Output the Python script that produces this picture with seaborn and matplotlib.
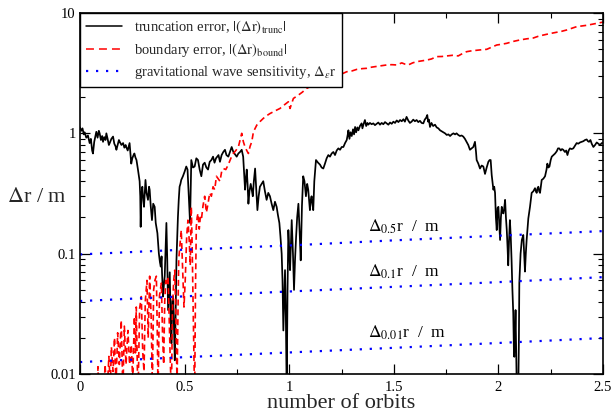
import numpy as np
import pandas as pd
import matplotlib
matplotlib.use("Agg")
import matplotlib.pyplot as plt
import matplotlib.ticker as mticker
from matplotlib.lines import Line2D
import seaborn as sns

# ---------------- data ----------------
trunc_x = [0.000, 0.006, 0.012, 0.018, 0.022, 0.030, 0.038, 0.046, 0.052, 0.058, 0.062, 0.068, 0.074, 0.078,
           0.084, 0.090, 0.094, 0.100, 0.106, 0.110, 0.116, 0.122, 0.126, 0.132, 0.138, 0.142, 0.150, 0.158,
           0.164, 0.170, 0.174, 0.180, 0.186, 0.190, 0.198, 0.206, 0.212, 0.218, 0.221, 0.228, 0.237, 0.245,
           0.250, 0.256, 0.260, 0.265, 0.270, 0.277, 0.285, 0.288, 0.290, 0.293, 0.298, 0.302, 0.306, 0.310,
           0.313, 0.318, 0.325, 0.330, 0.333, 0.338, 0.344, 0.350, 0.357, 0.362, 0.370, 0.374, 0.377, 0.382,
           0.386, 0.390, 0.392, 0.397, 0.401, 0.405, 0.409, 0.413, 0.417, 0.421, 0.425, 0.429, 0.433, 0.437,
           0.441, 0.445, 0.449, 0.453, 0.457, 0.461, 0.465, 0.468, 0.472, 0.476, 0.480, 0.484, 0.492, 0.500,
           0.508, 0.514, 0.520, 0.526, 0.530, 0.532, 0.540, 0.548, 0.556, 0.564, 0.572, 0.580, 0.588, 0.596,
           0.604, 0.612, 0.620, 0.628, 0.636, 0.643, 0.650, 0.656, 0.662, 0.669, 0.677, 0.685, 0.693, 0.700,
           0.709, 0.717, 0.725, 0.733, 0.741, 0.749, 0.757, 0.765, 0.773, 0.780, 0.785, 0.789, 0.793, 0.797,
           0.801, 0.805, 0.810, 0.816, 0.821, 0.826, 0.831, 0.837, 0.842, 0.848, 0.854, 0.860, 0.868, 0.876,
           0.884, 0.892, 0.900, 0.908, 0.916, 0.924, 0.932, 0.940, 0.946, 0.953, 0.958, 0.964, 0.968, 0.972,
           0.976, 0.980, 0.984, 0.988, 0.992, 0.996, 1.000, 1.004, 1.008, 1.012, 1.018, 1.023, 1.028, 1.033,
           1.038, 1.044, 1.050, 1.055, 1.061, 1.067, 1.073, 1.080, 1.086, 1.091, 1.095, 1.099, 1.103, 1.107,
           1.111, 1.115, 1.120, 1.128, 1.138, 1.147, 1.155, 1.163, 1.171, 1.179, 1.187, 1.195, 1.203, 1.211,
           1.219, 1.227, 1.235, 1.243, 1.251, 1.259, 1.267, 1.275, 1.280, 1.283, 1.288, 1.293, 1.299, 1.305,
           1.310, 1.315, 1.320, 1.326, 1.331, 1.338, 1.346, 1.350, 1.356, 1.362, 1.368, 1.374, 1.378, 1.386,
           1.394, 1.402, 1.410, 1.418, 1.426, 1.434, 1.442, 1.450, 1.458, 1.466, 1.474, 1.482, 1.490, 1.498,
           1.506, 1.514, 1.522, 1.530, 1.538, 1.546, 1.553, 1.561, 1.569, 1.577, 1.585, 1.593, 1.601, 1.609,
           1.617, 1.625, 1.633, 1.641, 1.648, 1.655, 1.660, 1.664, 1.668, 1.673, 1.680, 1.688, 1.697, 1.705,
           1.713, 1.721, 1.729, 1.737, 1.745, 1.753, 1.761, 1.769, 1.777, 1.785, 1.793, 1.800, 1.808, 1.816,
           1.824, 1.832, 1.840, 1.848, 1.856, 1.864, 1.872, 1.880, 1.888, 1.893, 1.896, 1.904, 1.912, 1.920,
           1.928, 1.936, 1.944, 1.952, 1.958, 1.963, 1.968, 1.976, 1.980, 1.984, 1.988, 1.992, 1.996, 2.000,
           2.004, 2.008, 2.012, 2.016, 2.020, 2.024, 2.028, 2.032, 2.036, 2.040, 2.044, 2.047, 2.051, 2.055,
           2.059, 2.063, 2.067, 2.071, 2.074, 2.076, 2.079, 2.082, 2.085, 2.088, 2.092, 2.095, 2.098, 2.100,
           2.106, 2.112, 2.119, 2.123, 2.127, 2.131, 2.135, 2.143, 2.151, 2.159, 2.167, 2.175, 2.179, 2.183,
           2.187, 2.191, 2.195, 2.199, 2.207, 2.215, 2.223, 2.230, 2.234, 2.239, 2.244, 2.250, 2.255, 2.263,
           2.271, 2.279, 2.285, 2.291, 2.298, 2.304, 2.310, 2.318, 2.324, 2.330, 2.336, 2.342, 2.350, 2.358,
           2.366, 2.374, 2.382, 2.390, 2.398, 2.406, 2.414, 2.422, 2.428, 2.433, 2.440, 2.446, 2.454, 2.462,
           2.470, 2.478, 2.486, 2.494, 2.500]
trunc_y = [1.12, 1.05, 1.10, 0.98, 1.02, 0.92, 0.96, 0.83, 0.90, 0.72, 0.68, 0.85, 0.95, 1.03,
           0.92, 1.05, 1.00, 0.88, 0.95, 0.85, 0.93, 0.88, 1.00, 0.90, 0.80, 0.83, 0.90, 0.94,
           0.82, 0.78, 0.73, 0.80, 0.88, 0.85, 0.80, 0.83, 0.76, 0.80, 0.77, 0.72, 0.83, 0.56,
           0.62, 0.66, 0.68, 0.63, 0.60, 0.50, 0.40, 0.30, 0.167, 0.30, 0.36, 0.28, 0.245, 0.33,
           0.41, 0.32, 0.28, 0.36, 0.34, 0.25, 0.19, 0.26, 0.245, 0.18, 0.148, 0.12, 0.10, 0.085,
           0.078, 0.095, 0.07, 0.044, 0.055, 0.065, 0.11, 0.18, 0.09, 0.034, 0.05, 0.07, 0.03, 0.018,
           0.04, 0.044, 0.025, 0.013, 0.03, 0.088, 0.14, 0.20, 0.28, 0.36, 0.38, 0.41, 0.44, 0.48,
           0.53, 0.50, 0.30, 0.18, 0.40, 0.60, 0.52, 0.53, 0.62, 0.60, 0.50, 0.44, 0.55, 0.57,
           0.52, 0.50, 0.58, 0.60, 0.64, 0.57, 0.62, 0.64, 0.66, 0.58, 0.66, 0.70, 0.73, 0.66,
           0.64, 0.70, 0.77, 0.70, 0.67, 0.64, 0.68, 0.70, 0.73, 0.64, 0.45, 0.34, 0.42, 0.50,
           0.38, 0.26, 0.33, 0.38, 0.34, 0.30, 0.40, 0.51, 0.36, 0.23, 0.30, 0.36, 0.38, 0.40,
           0.33, 0.28, 0.32, 0.30, 0.26, 0.23, 0.27, 0.245, 0.21, 0.18, 0.14, 0.10, 0.06, 0.023,
           0.04, 0.073, 0.03, 0.007, 0.05, 0.157, 0.11, 0.073, 0.12, 0.19, 0.10, 0.05, 0.09, 0.138,
           0.20, 0.26, 0.15, 0.088, 0.25, 0.44, 0.40, 0.30, 0.38, 0.34, 0.28, 0.23, 0.28, 0.30,
           0.26, 0.23, 0.40, 0.60, 0.57, 0.55, 0.52, 0.51, 0.56, 0.62, 0.66, 0.64, 0.68, 0.70,
           0.66, 0.72, 0.75, 0.73, 0.77, 0.77, 0.83, 0.88, 0.98, 1.06, 0.90, 1.02, 0.95, 1.08,
           0.98, 1.13, 1.02, 1.12, 1.06, 1.15, 1.21, 1.10, 1.20, 1.29, 1.15, 1.22, 1.18, 1.22,
           1.19, 1.21, 1.17, 1.20, 1.23, 1.18, 1.22, 1.19, 1.24, 1.21, 1.18, 1.23, 1.20, 1.25,
           1.22, 1.28, 1.24, 1.29, 1.26, 1.31, 1.25, 1.37, 1.28, 1.22, 1.25, 1.30, 1.26, 1.29,
           1.24, 1.27, 1.22, 1.21, 1.30, 1.35, 1.42, 1.25, 1.30, 1.13, 1.22, 1.15, 1.18, 1.12,
           1.10, 1.06, 1.04, 1.02, 1.00, 0.97, 0.98, 0.95, 0.98, 1.00, 0.98, 1.00, 0.97, 0.95,
           0.96, 0.94, 0.90, 0.85, 0.80, 0.73, 0.75, 0.77, 0.85, 0.70, 0.60, 0.56, 0.51, 0.54,
           0.53, 0.46, 0.52, 0.58, 0.60, 0.60, 0.45, 0.34, 0.36, 0.32, 0.20, 0.157, 0.24, 0.245,
           0.18, 0.13, 0.20, 0.245, 0.22, 0.216, 0.24, 0.28, 0.20, 0.157, 0.11, 0.080, 0.13, 0.19,
           0.14, 0.088, 0.05, 0.032, 0.016, 0.0139, 0.02, 0.034, 0.015, 0.007, 0.006, 0.007, 0.02, 0.057,
           0.10, 0.13, 0.143, 0.10, 0.071, 0.10, 0.13, 0.196, 0.245, 0.32, 0.33, 0.35, 0.33, 0.32,
           0.35, 0.36, 0.33, 0.32, 0.41, 0.42, 0.44, 0.50, 0.56, 0.52, 0.53, 0.60, 0.64, 0.66,
           0.68, 0.71, 0.75, 0.75, 0.72, 0.74, 0.73, 0.70, 0.72, 0.66, 0.72, 0.75, 0.74, 0.75,
           0.79, 0.83, 0.82, 0.84, 0.85, 0.86, 0.88, 0.89, 0.86, 0.85, 0.88, 0.82, 0.77, 0.80,
           0.84, 0.82, 0.80, 0.83, 0.83]

bound_x = [0.080, 0.086, 0.090, 0.100, 0.110, 0.120, 0.128, 0.138, 0.145, 0.150, 0.158, 0.165, 0.172, 0.180,
           0.188, 0.197, 0.205, 0.212, 0.220, 0.229, 0.237, 0.245, 0.252, 0.260, 0.265, 0.269, 0.277, 0.285,
           0.293, 0.300, 0.306, 0.312, 0.320, 0.326, 0.333, 0.340, 0.346, 0.352, 0.358, 0.365, 0.369, 0.373,
           0.380, 0.389, 0.395, 0.400, 0.405, 0.410, 0.416, 0.421, 0.426, 0.432, 0.437, 0.442, 0.448, 0.453,
           0.458, 0.464, 0.468, 0.472, 0.478, 0.484, 0.490, 0.497, 0.503, 0.510, 0.516, 0.522, 0.527, 0.532,
           0.536, 0.540, 0.545, 0.548, 0.552, 0.556, 0.560, 0.564, 0.570, 0.575, 0.580, 0.588, 0.596, 0.604,
           0.612, 0.620, 0.628, 0.636, 0.644, 0.652, 0.660, 0.669, 0.677, 0.685, 0.697, 0.709, 0.721, 0.733,
           0.745, 0.757, 0.765, 0.773, 0.781, 0.789, 0.797, 0.805, 0.813, 0.821, 0.829, 0.837, 0.845, 0.860,
           0.876, 0.892, 0.908, 0.924, 0.940, 0.956, 0.976, 0.996, 1.004, 1.020, 1.044, 1.063, 1.083, 1.107,
           1.131, 1.163, 1.195, 1.220, 1.243, 1.275, 1.300, 1.323, 1.350, 1.370, 1.395, 1.418, 1.442, 1.466,
           1.490, 1.514, 1.538, 1.555, 1.569, 1.590, 1.609, 1.633, 1.657, 1.680, 1.705, 1.730, 1.753, 1.780,
           1.808, 1.828, 1.848, 1.872, 1.896, 1.920, 1.944, 1.968, 1.992, 2.016, 2.040, 2.070, 2.103, 2.135,
           2.167, 2.190, 2.215, 2.247, 2.279, 2.303, 2.327, 2.350, 2.374, 2.398, 2.422, 2.446, 2.470, 2.500]
bound_y = [0.005, 0.0115, 0.006, 0.009, 0.005, 0.012, 0.006, 0.014, 0.008, 0.0168, 0.0105, 0.02, 0.008, 0.022,
           0.012, 0.028, 0.007, 0.025, 0.012, 0.023, 0.012, 0.0175, 0.009, 0.03, 0.015, 0.036, 0.006, 0.035,
           0.044, 0.015, 0.0105, 0.04, 0.06, 0.02, 0.065, 0.03, 0.008, 0.05, 0.06, 0.065, 0.025, 0.007,
           0.045, 0.057, 0.02, 0.012, 0.04, 0.06, 0.055, 0.065, 0.03, 0.012, 0.007, 0.035, 0.06, 0.073,
           0.03, 0.008, 0.03, 0.09, 0.12, 0.157, 0.08, 0.036, 0.06, 0.14, 0.19, 0.13, 0.08, 0.245,
           0.12, 0.044, 0.012, 0.006, 0.05, 0.167, 0.20, 0.216, 0.16, 0.20, 0.19, 0.25, 0.30, 0.22,
           0.26, 0.32, 0.30, 0.36, 0.34, 0.44, 0.42, 0.40, 0.48, 0.51, 0.50, 0.55, 0.62, 0.68,
           0.72, 0.77, 0.88, 1.00, 0.85, 0.77, 0.72, 0.68, 0.78, 0.85, 1.03, 1.10, 1.17, 1.25,
           1.33, 1.40, 1.46, 1.51, 1.56, 1.61, 1.72, 1.83, 1.61, 1.95, 2.08, 2.20, 2.36, 2.48,
           2.60, 2.66, 2.95, 3.00, 3.07, 3.25, 3.30, 3.40, 3.45, 3.47, 3.55, 3.60, 3.65, 3.70,
           3.72, 3.70, 3.85, 3.75, 3.70, 3.85, 3.94, 4.00, 4.06, 4.15, 4.34, 4.35, 4.40, 4.45,
           4.40, 4.60, 4.77, 4.85, 4.90, 4.95, 4.99, 5.20, 5.42, 5.50, 5.60, 5.80, 5.97, 6.10,
           6.20, 6.40, 6.56, 6.75, 6.92, 7.05, 7.23, 7.45, 7.70, 7.80, 7.90, 8.05, 8.20, 8.40]

sens_x = [0.0, 0.5, 1.0, 1.5, 2.0, 2.5]
sens_05 = [0.0986, 0.108, 0.117, 0.129, 0.141, 0.154]
sens_01 = [0.0404, 0.0442, 0.0485, 0.053, 0.058, 0.0638]
sens_001 = [0.01256, 0.0138, 0.0151, 0.0165, 0.0181, 0.0199]

sens_labels = [r"$\Delta_{0.5}$r  /  m", r"$\Delta_{0.1}$r  /  m", r"$\Delta_{0.01}$r  /  m"]
sens_label_x = [1.375, 1.375, 1.375]
sens_label_y = [0.152, 0.0643, 0.0199]

legend_labels = [r"truncation error, $|(\Delta\mathrm{r})_{\mathrm{trunc}}|$",
                 r"boundary error, $|(\Delta\mathrm{r})_{\mathrm{bound}}|$",
                 r"gravitational wave sensitivity, $\Delta_{\varepsilon}\mathrm{r}$"]

# ---------------- styling ----------------
sns.set_theme(style="ticks")
plt.rcParams["font.family"] = ["Liberation Serif", "DejaVu Serif"]
plt.rcParams["mathtext.fontset"] = "stix"
plt.rcParams["axes.linewidth"] = 1.2

fig = plt.figure(figsize=(6.14, 4.18), dpi=100)
ax = fig.add_axes([80 / 614, 1 - 374 / 418, 523 / 614, 361 / 418])

df_t = pd.DataFrame({"x": trunc_x, "y": trunc_y})
df_b = pd.DataFrame({"x": bound_x, "y": bound_y})

sns.lineplot(data=df_t, x="x", y="y", ax=ax, color="black", linewidth=1.25,
             estimator=None, sort=False)
sns.lineplot(data=df_b, x="x", y="y", ax=ax, color="#ff0000", linewidth=1.2,
             estimator=None, sort=False)
ax.lines[-1].set_dashes((3.6, 2.3))
for sv in (sens_05, sens_01, sens_001):
    sns.lineplot(x=sens_x, y=sv, ax=ax, color="#0000ff", linewidth=1.6,
                 estimator=None, sort=False)
    ax.lines[-1].set_linestyle((0, (1, 3.5)))

ax.set_yscale("log")
ax.set_xlim(0, 2.5)
ax.set_ylim(0.01, 10)

ax.xaxis.set_major_locator(mticker.MultipleLocator(0.5))
ax.xaxis.set_minor_locator(mticker.MultipleLocator(0.25))
ax.xaxis.set_major_formatter(mticker.FuncFormatter(lambda v, p: f"{v:g}"))
ax.yaxis.set_major_locator(mticker.LogLocator(base=10, numticks=10))
ax.yaxis.set_minor_locator(mticker.LogLocator(base=10, subs=np.arange(2, 10), numticks=20))
ax.yaxis.set_major_formatter(mticker.FuncFormatter(lambda v, p: f"{v:g}"))
ax.yaxis.set_minor_formatter(mticker.NullFormatter())

ax.tick_params(which="both", direction="in", top=True, right=True, colors="black",
               labelsize=10.5)
ax.tick_params(which="major", length=7, width=0.9)
ax.tick_params(which="minor", length=3.5, width=0.8)
ax.tick_params(axis="x", pad=5)
ax.tick_params(axis="y", pad=3)
for s in ax.spines.values():
    s.set_color("black")

ax.set_xlabel("number of orbits", fontsize=16, labelpad=0)
ax.set_ylabel(r"$\Delta$r / m", fontsize=16, rotation=0, ha="center", va="center")
ax.yaxis.set_label_coords(-0.082, 0.49)

for lab, lx, ly in zip(sens_labels, sens_label_x, sens_label_y):
    ax.text(lx, ly, lab, fontsize=12.5, ha="left", va="baseline", color="black")

handles = [Line2D([], [], color="black", lw=1.1),
           Line2D([], [], color="#ff0000", lw=1.1, dashes=(5.2, 3.3)),
           Line2D([], [], color="#0000ff", lw=1.6, linestyle=(0, (1, 3.5)))]
leg = ax.legend(handles, legend_labels, loc="upper left", bbox_to_anchor=(0, 1),
                borderaxespad=0, fontsize=10.5, frameon=True, fancybox=False,
                edgecolor="black", framealpha=1, handlelength=2.5, handletextpad=0.8,
                labelspacing=0.35, borderpad=0.4)
leg.get_frame().set_linewidth(1.0)

fig.savefig("out.png", dpi=100)
